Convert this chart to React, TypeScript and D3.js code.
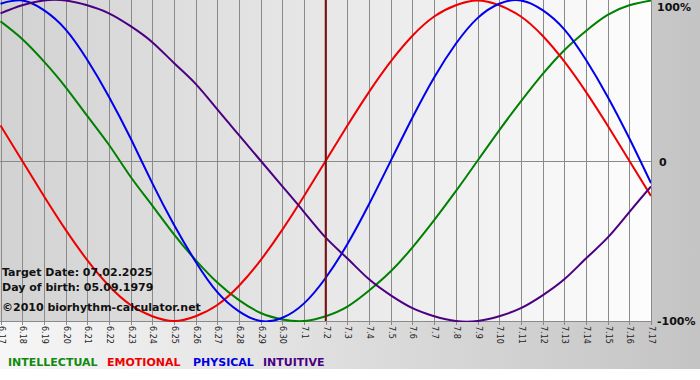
import React from "react";
import * as d3 from "d3";

const dayLabels = [
  "6.17","6.18","6.19","6.20","6.21","6.22","6.23","6.24","6.25","6.26","6.27","6.28","6.29","6.30",
  "7.1","7.2","7.3","7.4","7.5","7.6","7.7","7.8","7.9","7.10","7.11","7.12","7.13","7.14","7.15","7.16","7.17",
];

const physical = [0.98,1.0,0.94,0.82,0.63,0.4,0.14,-0.14,-0.4,-0.63,-0.82,-0.94,-1.0,-0.98,-0.89,-0.73,-0.52,-0.27,0,0.27,0.52,0.73,0.89,0.98,1.0,0.94,0.82,0.63,0.4,0.14,-0.14];
const emotional = [0.22,0,-0.22,-0.43,-0.62,-0.78,-0.9,-0.97,-1.0,-0.97,-0.9,-0.78,-0.62,-0.43,-0.22,0,0.22,0.43,0.62,0.78,0.9,0.97,1.0,0.97,0.9,0.78,0.62,0.43,0.22,0,-0.22];
const intellectual = [0.87,0.76,0.62,0.46,0.28,0.1,-0.1,-0.28,-0.46,-0.62,-0.76,-0.87,-0.95,-0.99,-1.0,-0.97,-0.91,-0.81,-0.69,-0.54,-0.37,-0.19,0,0.19,0.37,0.54,0.69,0.81,0.91,0.97,1.0];
const intuitive = [0.92,0.97,1.0,1.0,0.97,0.92,0.84,0.74,0.61,0.48,0.32,0.16,0,-0.16,-0.32,-0.48,-0.61,-0.74,-0.84,-0.92,-0.97,-1.0,-1.0,-0.97,-0.92,-0.84,-0.74,-0.61,-0.48,-0.32,-0.16];

const targetIndex = 15;
const yTickLabels = [
  { v: 1, t: "100%" },
  { v: 0, t: "0" },
  { v: -1, t: "-100%" },
];
const infoLines = ["Target Date: 07.02.2025", "Day of birth: 05.09.1979", "\u00a92010 biorhythm-calculator.net"];
const legend = [
  { name: "INTELLECTUAL", color: "#108a10" },
  { name: "EMOTIONAL", color: "#ee0000" },
  { name: "PHYSICAL", color: "#0000dd" },
  { name: "INTUITIVE", color: "#4b0082" },
];

const series = [
  { data: intellectual, color: "#008000" },
  { data: emotional, color: "#ee0000" },
  { data: physical, color: "#0000ee" },
  { data: intuitive, color: "#4b0082" },
];

export default function App() {
  const W = 700, H = 380;
  const plotL = 0.5, plotR = 651, plotT = 0, plotB = 321;
  const x = d3.scaleLinear().domain([0, dayLabels.length - 1]).range([plotL, plotR]);
  const y = d3.scaleLinear().domain([-1, 1]).range([plotB, plotT + 0.5]);
  const line = d3
    .line<number>()
    .x((_, i) => x(i))
    .y((d) => y(d))
    .curve(d3.curveNatural);
  const font = "'DejaVu Sans', Verdana, sans-serif";
  const legendX = [8, 107, 193, 263];

  return (
    <svg width={W} height={H} style={{ position: "absolute", left: 0, top: 0, display: "block" }}>
      <defs>
        <linearGradient id="frameGrad" x1="0" x2="1" y1="0" y2="0">
          <stop offset="0" stopColor="#f6f6f6" />
          <stop offset="1" stopColor="#c4c4c4" />
        </linearGradient>
        <linearGradient id="plotGrad" x1="0" x2="1" y1="0" y2="0">
          <stop offset="0" stopColor="#d2d2d2" />
          <stop offset="1" stopColor="#fdfdfd" />
        </linearGradient>
        <clipPath id="plotClip">
          <rect x={0} y={0} width={plotR} height={plotB + 1} />
        </clipPath>
      </defs>
      <rect x={0} y={0} width={W} height={H} fill="#ffffff" />
      <rect x={0} y={0} width={W} height={369} fill="url(#frameGrad)" />
      <rect x={0} y={0} width={plotR} height={plotB} fill="url(#plotGrad)" />

      {dayLabels.map((_, i) => (
        <line key={"g" + i} x1={Math.round(x(i)) + 0.5} x2={Math.round(x(i)) + 0.5} y1={0} y2={plotB + 4} stroke="#8a8a8a" strokeWidth={1} />
      ))}
      <line x1={0} x2={plotR} y1={Math.round(y(0)) + 0.5} y2={Math.round(y(0)) + 0.5} stroke="#8a8a8a" />
      <line x1={0} x2={plotR + 1} y1={plotB + 0.5} y2={plotB + 0.5} stroke="#8a8a8a" />

      <g clipPath="url(#plotClip)">
        {series.map((s, k) => (
          <path key={k} d={line(s.data) || ""} fill="none" stroke={s.color} strokeWidth={2} />
        ))}
      </g>

      <line x1={x(targetIndex)} x2={x(targetIndex)} y1={0} y2={plotB} stroke="#7a0f0f" strokeWidth={2} />

      {dayLabels.map((t, i) => (
        <text
          key={"l" + i}
          transform={`translate(${Math.round(x(i)) + 0.5},326) rotate(90)`}
          dy="0.35em"
          fontFamily={font}
          fontSize={8}
          fill="#222"
        >
          {t}
        </text>
      ))}

      {yTickLabels.map((d) => (
        <text
          key={d.t}
          x={d.v === 0 ? 659 : 657}
          y={d.v === 1 ? 11 : d.v === 0 ? 166 : 325}
          fontFamily={font}
          fontSize={11}
          fontWeight="bold"
          fill="#111"
        >
          {d.t}
        </text>
      ))}

      {infoLines.map((t, i) => (
        <text key={t} x={2} y={[276, 290.5, 310.5][i]} fontFamily={font} fontSize={11} fontWeight="bold" fill="#111">
          {t}
        </text>
      ))}

      {legend.map((l, i) => (
        <text key={l.name} x={legendX[i]} y={366} fontFamily={font} fontSize={11} fontWeight="bold" fill={l.color}>
          {l.name}
        </text>
      ))}
    </svg>
  );
}
